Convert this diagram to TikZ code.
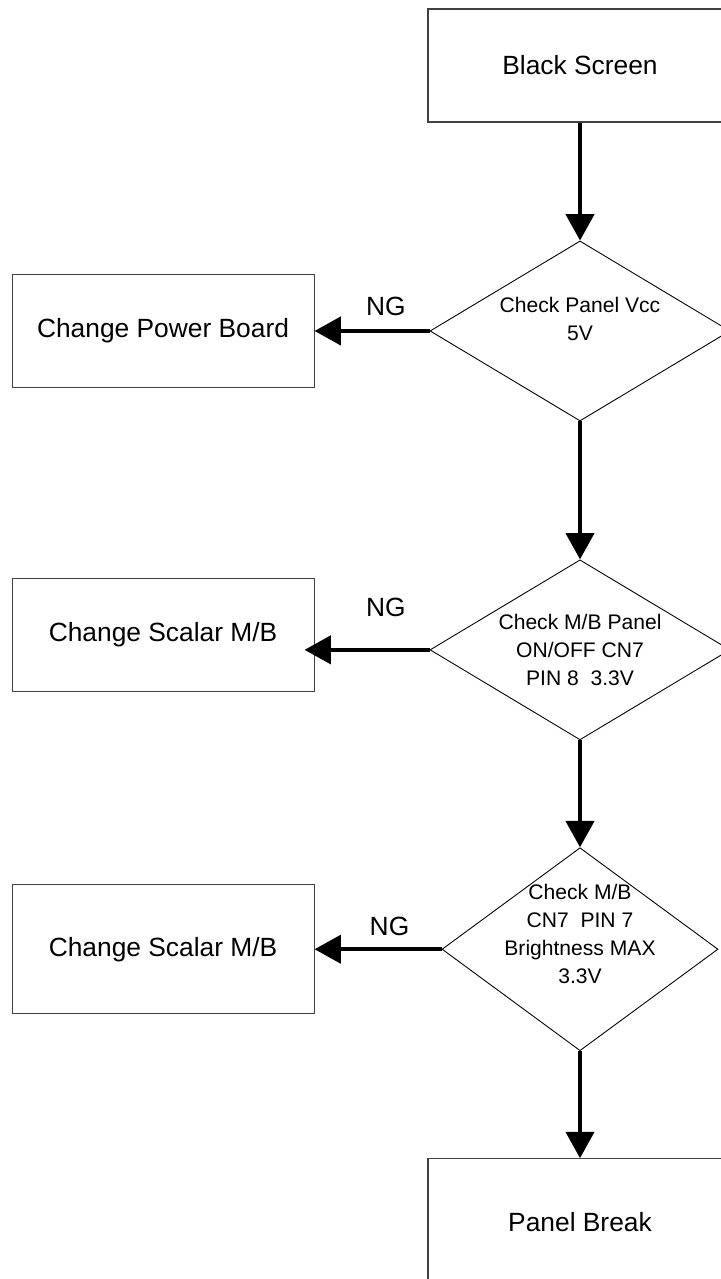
\documentclass[tikz,border=0pt]{standalone}
\usepackage{fontspec}
\setmainfont{Liberation Sans}
\usetikzlibrary{arrows.meta, positioning, shapes.geometric}

\begin{document}
\begin{tikzpicture}[
  box/.style={rectangle, draw=black!75, line width=0.6pt, minimum width=6.04cm, minimum height=2.26cm, font=\fontsize{15}{18}\selectfont},
  dia/.style={diamond, draw, line width=0.5pt, minimum width=6cm, minimum height=3.6cm, inner sep=0pt},
  dtext/.style={align=center, font=\fontsize{12}{16}\selectfont, inner sep=0pt},
  ng/.style={font=\fontsize{15}{18}\selectfont},
  arrow/.style={-{Triangle[length=15pt, width=16pt]}, line width=2.3pt}
]
\useasboundingbox (0,0) rectangle (14.4,-25.58);

% Main column
\node[box, minimum width=6.08cm] (start) at (11.6,-1.31) {Black Screen};
\node[dia, below=2.36cm of start] (d1) {};
\node[dia, below=2.76cm of d1] (d2) {};
\node[dia, minimum width=5.52cm, minimum height=4.06cm, below=2.14cm of d2] (d3) {};
\node[box, minimum width=6.08cm, minimum height=2.52cm, below=2.14cm of d3] (brk) {Panel Break};

% Diamond texts
\node[dtext] (d1txt) at ([yshift=0.24cm] d1.center) {Check Panel Vcc\\5V};
\node[dtext] (d2txt) at (d2.center) {Check M/B Panel\\ON/OFF CN7\\PIN 8\ \ 3.3V};
\node[dtext] (d3txt) at ([yshift=0.3cm] d3.center) {Check M/B\\CN7\ \ PIN 7\\Brightness MAX\\3.3V};

% NG boxes
\node[box, left=2.3cm of d1] (pwr) {Change Power Board};
\node[box, left=2.3cm of d2, yshift=0.3cm] (sc1) {Change Scalar M/B};
\node[box, minimum height=2.58cm, left=2.54cm of d3] (sc2) {Change Scalar M/B};

% Arrows down
\draw[arrow] (start) -- (d1);
\draw[arrow] (d1) -- (d2);
\draw[arrow] (d2) -- (d3);
\draw[arrow] (d3) -- (brk);

% Arrows NG
\draw[arrow] (d1.west) -- (d1.west -| pwr.east) node[ng, pos=0.38, above=0.15cm] (ng1) {NG};
\draw[arrow, shorten >=-0.2cm] (d2.west) -- (d2.west -| sc1.east) node[ng, pos=0.38, above=0.5cm] (ng2) {NG};
\draw[arrow] (d3.west) -- (d3.west -| sc2.east) node[ng, pos=0.41, above=0.12cm] (ng3) {NG};

\end{tikzpicture}
\end{document}
